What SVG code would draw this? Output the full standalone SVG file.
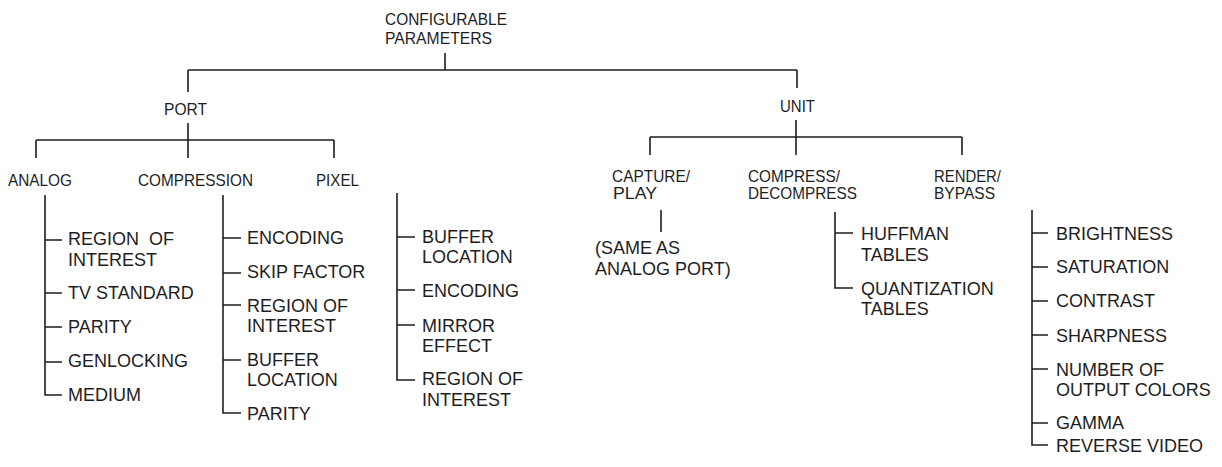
<svg xmlns="http://www.w3.org/2000/svg" width="1222" height="467" viewBox="0 0 1222 467">
<style>
text{font-family:"Liberation Sans",Arial,Helvetica,sans-serif;fill:#1e1e1e}
.h{font-size:17px}
.i{font-size:18px}
.c path{fill:none;stroke:#1e1e1e;stroke-width:1.6}
</style>
<rect width="1222" height="467" fill="#fff"/>
<g class="c" id="connectors">
<path d="M445 53V70M188 70H797M188 70V92M797 70V88"/>
<path d="M188 123V158M36 140H334M36 140V158M334 140V158"/>
<path d="M796 120V155M650 137H962M650 137V155M962 137V155"/>
<path d="M45 195V395H62M45 240H62M45 293H62M45 327H62M45 362H62"/>
<path d="M223 195V413H241M223 238H241M223 273H241M223 305H241M223 360H241"/>
<path d="M397 193V380H415M397 237H415M397 290H415M397 325H415"/>
<path d="M661 210V232"/>
<path d="M835 212V288H853M835 233H853"/>
<path d="M1032 210V445H1048M1032 233H1048M1032 267H1048M1032 301H1048M1032 335H1048M1032 369H1048M1032 423H1048"/>
</g>
<g id="root"><text class="h" x="385" y="25" textLength="122" lengthAdjust="spacingAndGlyphs">CONFIGURABLE</text><text class="h" x="385" y="44" textLength="107" lengthAdjust="spacingAndGlyphs">PARAMETERS</text></g>
<g id="port"><text class="h" x="164" y="115" textLength="43" lengthAdjust="spacingAndGlyphs">PORT</text></g>
<g id="unit"><text class="h" x="780" y="112" textLength="35" lengthAdjust="spacingAndGlyphs">UNIT</text></g>
<g id="analog"><text class="h" x="8" y="186" textLength="64" lengthAdjust="spacingAndGlyphs">ANALOG</text></g>
<g id="compression"><text class="h" x="138" y="186" textLength="115" lengthAdjust="spacingAndGlyphs">COMPRESSION</text></g>
<g id="pixel"><text class="h" x="316" y="186" textLength="43" lengthAdjust="spacingAndGlyphs">PIXEL</text></g>
<g id="capture"><text class="h" x="612" y="182" textLength="78" lengthAdjust="spacingAndGlyphs">CAPTURE/</text><text class="h" x="613" y="199" textLength="44" lengthAdjust="spacingAndGlyphs">PLAY</text></g>
<g id="compress"><text class="h" x="748" y="182" textLength="92" lengthAdjust="spacingAndGlyphs">COMPRESS/</text><text class="h" x="748" y="199" textLength="109" lengthAdjust="spacingAndGlyphs">DECOMPRESS</text></g>
<g id="render"><text class="h" x="934" y="182" textLength="67" lengthAdjust="spacingAndGlyphs">RENDER/</text><text class="h" x="934" y="199" textLength="61" lengthAdjust="spacingAndGlyphs">BYPASS</text></g>
<g id="analog-items">
<text class="i" x="68" y="245" xml:space="preserve">REGION  OF</text><text class="i" x="68" y="266">INTEREST</text>
<text class="i" x="68" y="299">TV STANDARD</text>
<text class="i" x="68" y="333">PARITY</text>
<text class="i" x="68" y="367">GENLOCKING</text>
<text class="i" x="68" y="401">MEDIUM</text>
</g>
<g id="compression-items">
<text class="i" x="247" y="244">ENCODING</text>
<text class="i" x="247" y="278">SKIP FACTOR</text>
<text class="i" x="247" y="312">REGION OF</text><text class="i" x="247" y="332">INTEREST</text>
<text class="i" x="247" y="366">BUFFER</text><text class="i" x="247" y="386">LOCATION</text>
<text class="i" x="247" y="420">PARITY</text>
</g>
<g id="pixel-items">
<text class="i" x="422" y="243">BUFFER</text><text class="i" x="422" y="263">LOCATION</text>
<text class="i" x="422" y="297">ENCODING</text>
<text class="i" x="422" y="332">MIRROR</text><text class="i" x="422" y="352">EFFECT</text>
<text class="i" x="422" y="385">REGION OF</text><text class="i" x="422" y="406">INTEREST</text>
</g>
<g id="capture-items">
<text class="i" x="595" y="254">(SAME AS</text><text class="i" x="595" y="275">ANALOG PORT)</text>
</g>
<g id="compress-items">
<text class="i" x="861" y="240">HUFFMAN</text><text class="i" x="861" y="261">TABLES</text>
<text class="i" x="861" y="295">QUANTIZATION</text><text class="i" x="861" y="315">TABLES</text>
</g>
<g id="render-items">
<text class="i" x="1056" y="240">BRIGHTNESS</text>
<text class="i" x="1056" y="273">SATURATION</text>
<text class="i" x="1056" y="307">CONTRAST</text>
<text class="i" x="1056" y="342">SHARPNESS</text>
<text class="i" x="1056" y="376">NUMBER OF</text><text class="i" x="1056" y="396">OUTPUT COLORS</text>
<text class="i" x="1056" y="429">GAMMA</text>
<text class="i" x="1056" y="452">REVERSE VIDEO</text>
</g>
</svg>
